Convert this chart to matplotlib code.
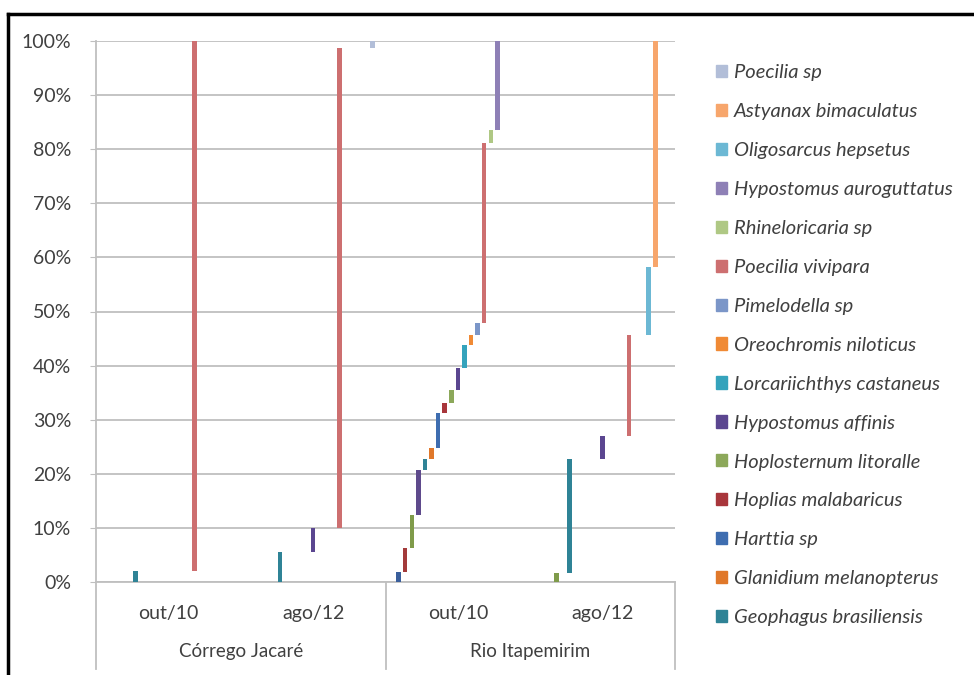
import numpy as np
import matplotlib.pyplot as plt
from matplotlib.lines import Line2D

plt.rcParams['font.family'] = ['Lato', 'DejaVu Sans']

categories = ['out/10', 'ago/12', 'out/10', 'ago/12']
sites = ['Córrego Jacaré', 'Rio Itapemirim']

# series in plotting order (first four are not shown in the legend of the original)
species = ['_sp1', '_sp2', '_sp3', '_sp4',
           'Geophagus brasiliensis', 'Glanidium melanopterus', 'Harttia sp',
           'Hoplias malabaricus', 'Hoplosternum litoralle', 'Hypostomus affinis',
           'Lorcariichthys castaneus', 'Oreochromis niloticus', 'Pimelodella sp',
           'Poecilia vivipara', 'Rhineloricaria sp', 'Hypostomus auroguttatus',
           'Oligosarcus hepsetus', 'Astyanax bimaculatus', 'Poecilia sp']

colors = ['#3A5F9C', '#A33A3A', '#7F9B4A', '#5E4A8C', '#2F8396', '#E0782A',
          '#3E6DB0', '#A8363B', '#8CA85A', '#5B4690', '#35A3BC', '#F08A35',
          '#7B96C8', '#CD6F70', '#AFC884', '#8E80B6', '#6CB8D4', '#F7A66C',
          '#B2BED8']

# percentage of each species per sample (rows = species, cols = categories)
pct = np.array([
    [0.0, 0.0, 1.9, 0.0],
    [0.0, 0.0, 4.3, 0.0],
    [0.0, 0.0, 6.2, 1.7],
    [0.0, 0.0, 8.3, 0.0],
    [2.0, 5.6, 2.0, 21.0],
    [0.0, 0.0, 2.0, 0.0],
    [0.0, 0.0, 6.5, 0.0],
    [0.0, 0.0, 1.9, 0.0],
    [0.0, 0.0, 2.4, 0.0],
    [0.0, 4.4, 4.0, 4.3],
    [0.0, 0.0, 4.3, 0.0],
    [0.0, 0.0, 1.9, 0.0],
    [0.0, 0.0, 2.2, 0.0],
    [98.0, 88.7, 33.3, 18.7],
    [0.0, 0.0, 2.3, 0.0],
    [0.0, 0.0, 16.5, 0.0],
    [0.0, 0.0, 0.0, 12.6],
    [0.0, 0.0, 0.0, 41.7],
    [0.0, 1.3, 0.0, 0.0],
])

bottoms = np.vstack([np.zeros(4), np.cumsum(pct, axis=0)[:-1]])

fig = plt.figure(figsize=(9.74, 6.75), dpi=100)
ax = fig.add_axes([96 / 974, 1 - 582 / 675, (675 - 96) / 974, (582 - 41) / 675])

x = np.arange(len(categories))
step = 0.0455
handles = {}
for i, name in enumerate(species):
    vals = pct[i]
    keep = vals > 0
    ax.bar(x[keep] + (i - 9) * step, vals[keep], bottom=bottoms[i][keep],
           width=0.031, color=colors[i], zorder=3)
    handles[name] = plt.Rectangle((0, 0), 1, 1, color=colors[i])

ax.set_xlim(-0.5, 3.5)
ax.set_ylim(0, 100)
ax.set_yticks(np.arange(0, 101, 10))
ax.set_yticklabels([f'{v}%' for v in range(0, 101, 10)])
ax.yaxis.grid(True, color='#BFBFBF', lw=1.3, zorder=0)
ax.tick_params(axis='y', length=4, color='#BFBFBF', labelsize=14,
               labelcolor='#404040', pad=14)
ax.set_xticks([])
for s in ['top', 'right']:
    ax.spines[s].set_visible(False)
for s in ['left', 'bottom']:
    ax.spines[s].set_color('#BFBFBF')
    ax.spines[s].set_linewidth(1.3)

# two-level category axis
for xi, lab in zip(x, categories):
    ax.text(xi, -0.059, lab, transform=ax.get_xaxis_transform(), ha='center',
            va='center', fontsize=14, color='#404040')
for k, site in enumerate(sites):
    ax.text(2 * k + 0.5, -0.129, site, transform=ax.get_xaxis_transform(),
            ha='center', va='center', fontsize=13.5, color='#404040')
for xs in [-0.5, 1.5, 3.5]:
    ax.plot([xs, xs], [0, -0.161], transform=ax.get_xaxis_transform(),
            color='#BFBFBF', lw=1.3, clip_on=False)

shown = [s for s in species if not s.startswith('_')][::-1]
fig.legend([handles[s] for s in shown], shown, loc='upper left',
           bbox_to_anchor=(0.716, 0.932), frameon=False, handlelength=0.55,
           handleheight=0.55, handletextpad=0.35, labelspacing=1.09,
           prop={'size': 14.5, 'style': 'italic'}, labelcolor='#404040')

# outer frame
fig.add_artist(Line2D([8 / 974, 1], [1 - 14 / 675] * 2, color='black', lw=2.5))
fig.add_artist(Line2D([8 / 974] * 2, [0, 1 - 14 / 675], color='black', lw=2.5))

fig.savefig('out.png', dpi=100)
